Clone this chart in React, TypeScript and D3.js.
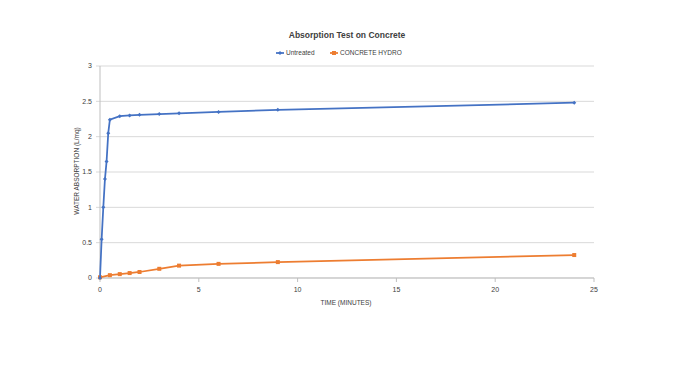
import React from "react";
import * as d3 from "d3";

const untreatedTime = [0, 0.083, 0.167, 0.25, 0.333, 0.417, 0.5, 1, 1.5, 2, 3, 4, 6, 9, 24];
const untreatedValue = [0, 0.55, 1.0, 1.4, 1.65, 2.05, 2.24, 2.29, 2.3, 2.31, 2.32, 2.33, 2.35, 2.38, 2.48];
const hydroTime = [0, 0.5, 1, 1.5, 2, 3, 4, 6, 9, 24];
const hydroValue = [0.01, 0.04, 0.055, 0.07, 0.085, 0.13, 0.175, 0.2, 0.225, 0.325];
const xTicks = [0, 5, 10, 15, 20, 25];
const yTicks = [0, 0.5, 1, 1.5, 2, 2.5, 3];

const W = 694, H = 378;
const FONT = "'Liberation Sans', Arial, sans-serif";

export default function App() {
  const x = d3.scaleLinear().domain([0, 25]).range([100, 594]);
  const y = d3.scaleLinear().domain([0, 3]).range([278, 66]);
  const line = d3.line<[number, number]>().x(d => x(d[0])).y(d => y(d[1]));
  const blue = untreatedTime.map((t, i) => [t, untreatedValue[i]] as [number, number]);
  const orange = hydroTime.map((t, i) => [t, hydroValue[i]] as [number, number]);
  const blueC = "#4472C4", orangeC = "#ED7D31";
  const diamond = (cx: number, cy: number, r: number) => `M${cx},${cy - r}L${cx + r},${cy}L${cx},${cy + r}L${cx - r},${cy}Z`;
  return (
    <svg width={W} height={H} style={{ position: "absolute", left: 0, top: 0, background: "#fff" }} fontFamily={FONT}>
      <rect width={W} height={H} fill="#fff" />
      {yTicks.map(t => (
        <g key={t}>
          <line x1={96} x2={594} y1={y(t)} y2={y(t)} stroke="#d9d9d9" strokeWidth={1} />
          <text x={92} y={y(t)} dy="0.35em" textAnchor="end" fontSize={7} fill="#404040">{t}</text>
        </g>
      ))}
      <line x1={100} x2={100} y1={66} y2={278} stroke="#bfbfbf" />
      <line x1={100} x2={594} y1={278} y2={278} stroke="#bfbfbf" />
      {xTicks.map(t => (
        <g key={t}>
          <line x1={x(t)} x2={x(t)} y1={278} y2={282} stroke="#bfbfbf" />
          <text x={x(t)} y={290} dy="0.35em" textAnchor="middle" fontSize={7} fill="#404040">{t}</text>
        </g>
      ))}
      <path d={line(orange) || ""} fill="none" stroke={orangeC} strokeWidth={1.75} />
      {orange.map((d, i) => (
        <rect key={i} x={x(d[0]) - 2} y={y(d[1]) - 2} width={4} height={4} fill={orangeC} />
      ))}
      <path d={line(blue) || ""} fill="none" stroke={blueC} strokeWidth={1.75} />
      {blue.map((d, i) => (
        <path key={i} d={diamond(x(d[0]), y(d[1]), 2)} fill={blueC} />
      ))}
      <text x={347} y={35} dy="0.35em" textAnchor="middle" fontSize={8.5} fontWeight="bold" fill="#404040">Absorption Test on Concrete</text>
      <line x1={276} x2={284} y1={53} y2={53} stroke={blueC} strokeWidth={1.75} />
      <path d={diamond(280, 53, 2)} fill={blueC} />
      <text x={286} y={53} dy="0.35em" fontSize={6.5} fill="#404040">Untreated</text>
      <line x1={330} x2={338} y1={53} y2={53} stroke={orangeC} strokeWidth={1.75} />
      <rect x={332} y={51} width={4} height={4} fill={orangeC} />
      <text x={340} y={53} dy="0.35em" fontSize={6.5} fill="#404040">CONCRETE HYDRO</text>
      <text transform={`translate(77,171) rotate(-90)`} dy="0.35em" textAnchor="middle" fontSize={6.5} fill="#404040">WATER ABSORPTION  (L/mq)</text>
      <text x={346} y={303} dy="0.35em" textAnchor="middle" fontSize={6.5} fill="#404040">TIME (MINUTES)</text>
    </svg>
  );
}
